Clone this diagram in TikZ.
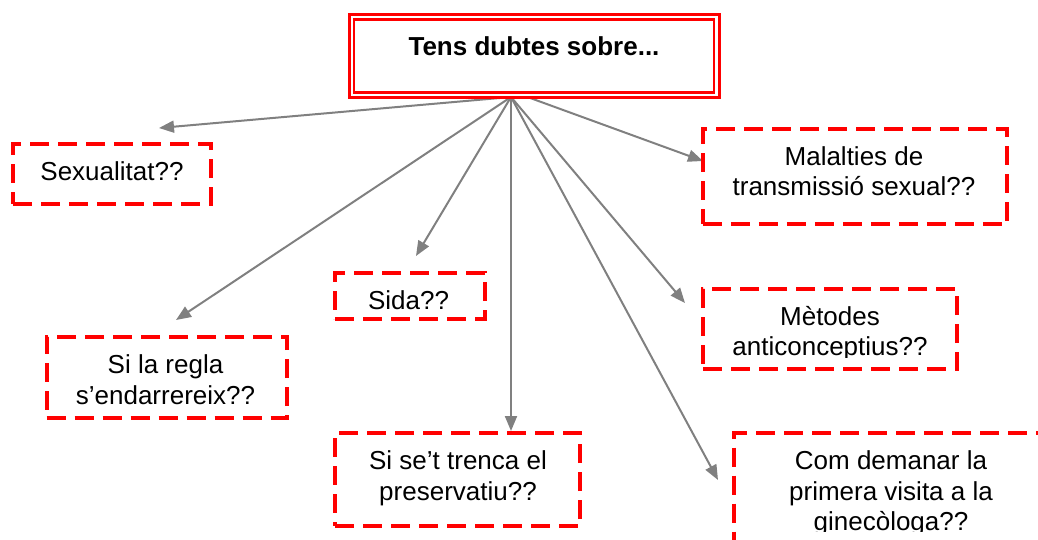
\documentclass[tikz,border=0pt]{standalone}
\usepackage{fontspec}
\setmainfont{Liberation Sans}
\usetikzlibrary{arrows.meta}
\definecolor{conngray}{RGB}{128,128,128}
\definecolor{boxred}{RGB}{255,0,0}
\newcommand\mlines[1]{\begin{tabular}[t]{@{}c@{}}#1\end{tabular}}
\begin{document}
\begin{tikzpicture}[x=1pt,y=-1pt,
  dbox/.style={draw=boxred, line width=4pt, dash pattern=on 19pt off 9pt, inner sep=0pt, outer sep=0pt},
  tbox/.style={draw=boxred, fill=white, inner sep=0pt, outer sep=0pt},
  txt/.style={inner sep=0pt, outer sep=0pt, anchor=base, font=\fontsize{26}{30.7}\selectfont},
  conn/.style={draw=conngray, line width=2pt, -{Triangle[length=15pt,width=12pt]}}
]
\useasboundingbox (0,0) rectangle (1038,539);
\clip (0,0) rectangle (1038,539);

% hub and arrow tips
\coordinate (hub) at (511,97);
\coordinate (hubm) at (511,91);
\coordinate (tsex) at (159,128);
\coordinate (tsida) at (416,256);
\coordinate (tregla) at (176,320);
\coordinate (ttrenc) at (511,431);
\coordinate (tmal) at (703,161);
\coordinate (tmet) at (685,303);
\coordinate (tcom) at (718,480);

% connectors
\draw[conn] (hub) -- (tsex);
\draw[conn] (hub) -- (tsida);
\draw[conn] (hub) -- (tregla);
\draw[conn] (hub) -- (ttrenc);
\draw[conn] (hubm) -- (tmal);
\draw[conn] (hub) -- (tmet);
\draw[conn] (hub) -- (tcom);

% title box
\node[tbox, line width=3pt, minimum width=370.5pt, minimum height=83pt] (titleO) at (534.25,56) {};
\node[tbox, line width=2.5pt, minimum width=360pt, minimum height=73pt] (titleI) at (534,56) {};
\node[txt, font=\fontsize{26}{30.7}\selectfont\bfseries] (title) at (534,55.5) {Tens dubtes sobre...};

% dashed boxes
\node[dbox, minimum width=198pt, minimum height=60pt] (sexB) at (112,174) {};
\node[txt] (sexT) at (112,180) {Sexualitat??};

\node[dbox, minimum width=304.5pt, minimum height=95pt] (malB) at (855,176.5) {};
\node[txt] (malT) at (854,165) {\mlines{Malalties de\\transmissió sexual??}};

\node[dbox, minimum width=150pt, minimum height=46pt] (sidaB) at (410,296) {};
\node[txt] (sidaT) at (408.5,309.3) {Sida??};

\node[dbox, minimum width=240pt, minimum height=81.5pt] (reglaB) at (166.5,377.25) {};
\node[txt] (reglaT) at (165.5,373.3) {\mlines{Si la regla\\s’endarrereix??}};

\node[dbox, minimum width=254pt, minimum height=80pt] (metB) at (830,329) {};
\begin{scope}
\clip (700,280) rectangle (960,357);
\node[txt] (metT) at (830,325) {\mlines{Mètodes\\anticonceptius??}};
\end{scope}

\node[dbox, minimum width=245pt, minimum height=93pt] (trencB) at (457.5,479.5) {};
\node[txt] (trencT) at (458,469.3) {\mlines{Si se’t trenca el\\preservatiu??}};

\node[dbox, minimum width=316pt, minimum height=137pt] (comB) at (892,501) {};
\begin{scope}
\clip (736,440) rectangle (1038,531);
\node[txt] (comT) at (891,469.3) {\mlines{Com demanar la\\primera visita a la\\ginecòloga??}};
\end{scope}
\end{tikzpicture}
\end{document}
